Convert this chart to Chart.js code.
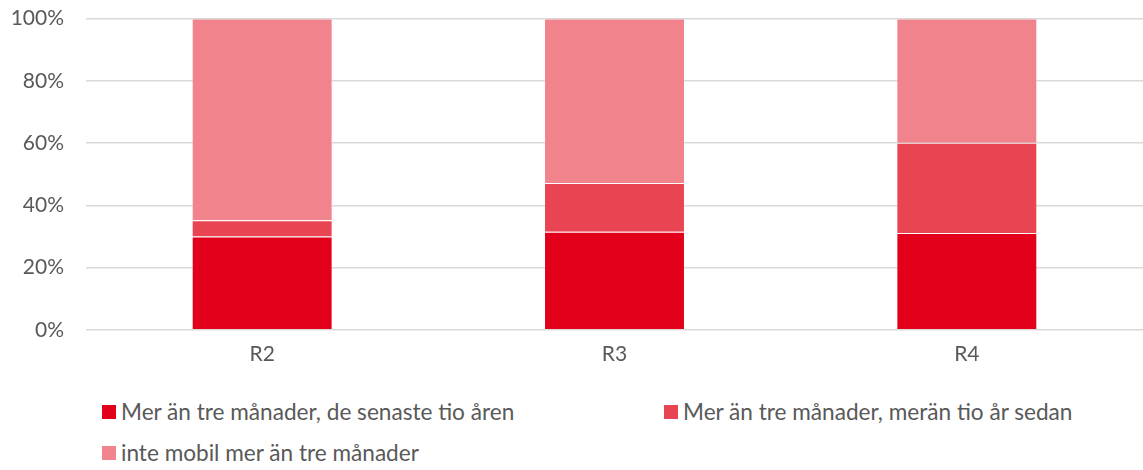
<!DOCTYPE html>
<html>
<head>
<meta charset="utf-8">
<script src="https://cdn.jsdelivr.net/npm/chart.js@4/dist/chart.umd.min.js"></script>
<style>
  html, body { margin: 0; padding: 0; background: #fff; }
  body { width: 1143px; height: 470px; position: relative; overflow: hidden; font-family: Lato, "Open Sans", sans-serif; }
  #chart { position: absolute; left: 0; top: -16px; }
  .legend-item { position: absolute; display: flex; align-items: center; font-size: 22.6px; color: #595959; white-space: nowrap; line-height: 24px; }
  .legend-item span.box { display: inline-block; width: 14px; height: 14px; margin-right: 5px; }
</style>
</head>
<body>
<canvas id="chart" width="1143" height="387"></canvas>
<div id="legend"></div>
<script>
// Kategorier och serier (andel, %)
const categories = ['R2', 'R3', 'R4'];
const seriesLabels = [
  'Mer än tre månader, de senaste tio åren',
  'Mer än tre månader, merän tio år sedan',
  'inte mobil mer än tre månader'
];
const recentTen = [30.0, 31.5, 31.1];
const olderTen = [5.2, 15.7, 29.0];
const notMobile = [64.8, 52.8, 39.9];
const yTicks = [0, 20, 40, 60, 80, 100];
const colors = ['#E2001A', '#E84452', '#F0838B'];

const seriesData = [recentTen, olderTen, notMobile];

const ctx = document.getElementById('chart').getContext('2d');
new Chart(ctx, {
  type: 'bar',
  data: {
    labels: categories,
    datasets: seriesData.map((data, i) => ({
      label: seriesLabels[i],
      data: data,
      backgroundColor: colors[i],
      borderColor: 'rgba(255,255,255,0.2)',
      borderWidth: 1,
      categoryPercentage: 0.4,
      barPercentage: 1.0
    }))
  },
  options: {
    responsive: false,
    animation: false,
    layout: { padding: { top: 6, right: 0, bottom: 0, left: 0 } },
    plugins: {
      legend: { display: false },
      tooltip: { enabled: false }
    },
    scales: {
      x: {
        stacked: true,
        grid: { display: false },
        border: { display: false },
        ticks: { color: '#595959', font: { family: 'Lato', size: 21 }, padding: 4 }
      },
      y: {
        stacked: true,
        min: 0,
        max: 100,
        afterBuildTicks: axis => { axis.ticks = yTicks.map(v => ({ value: v })); },
        afterFit: axis => { axis.width = 86; },
        grid: { color: '#d9d9d9', lineWidth: 1.5, drawTicks: false },
        border: { display: false },
        ticks: {
          color: '#595959',
          font: { family: 'Lato', size: 21 },
          padding: 22,
          callback: v => v + '%'
        }
      }
    }
  }
});

// Förklaring (legend) som HTML, placerad som i originalet
const legendPos = [[102, 412], [664, 412], [102, 453]];
const legendEl = document.getElementById('legend');
seriesLabels.forEach((label, i) => {
  const item = document.createElement('div');
  item.className = 'legend-item';
  item.style.left = legendPos[i][0] + 'px';
  item.style.top = (legendPos[i][1] - 12) + 'px';
  item.innerHTML = `<span class="box" style="background:${colors[i]}"></span>${label}`;
  legendEl.appendChild(item);
});
</script>
</body>
</html>
